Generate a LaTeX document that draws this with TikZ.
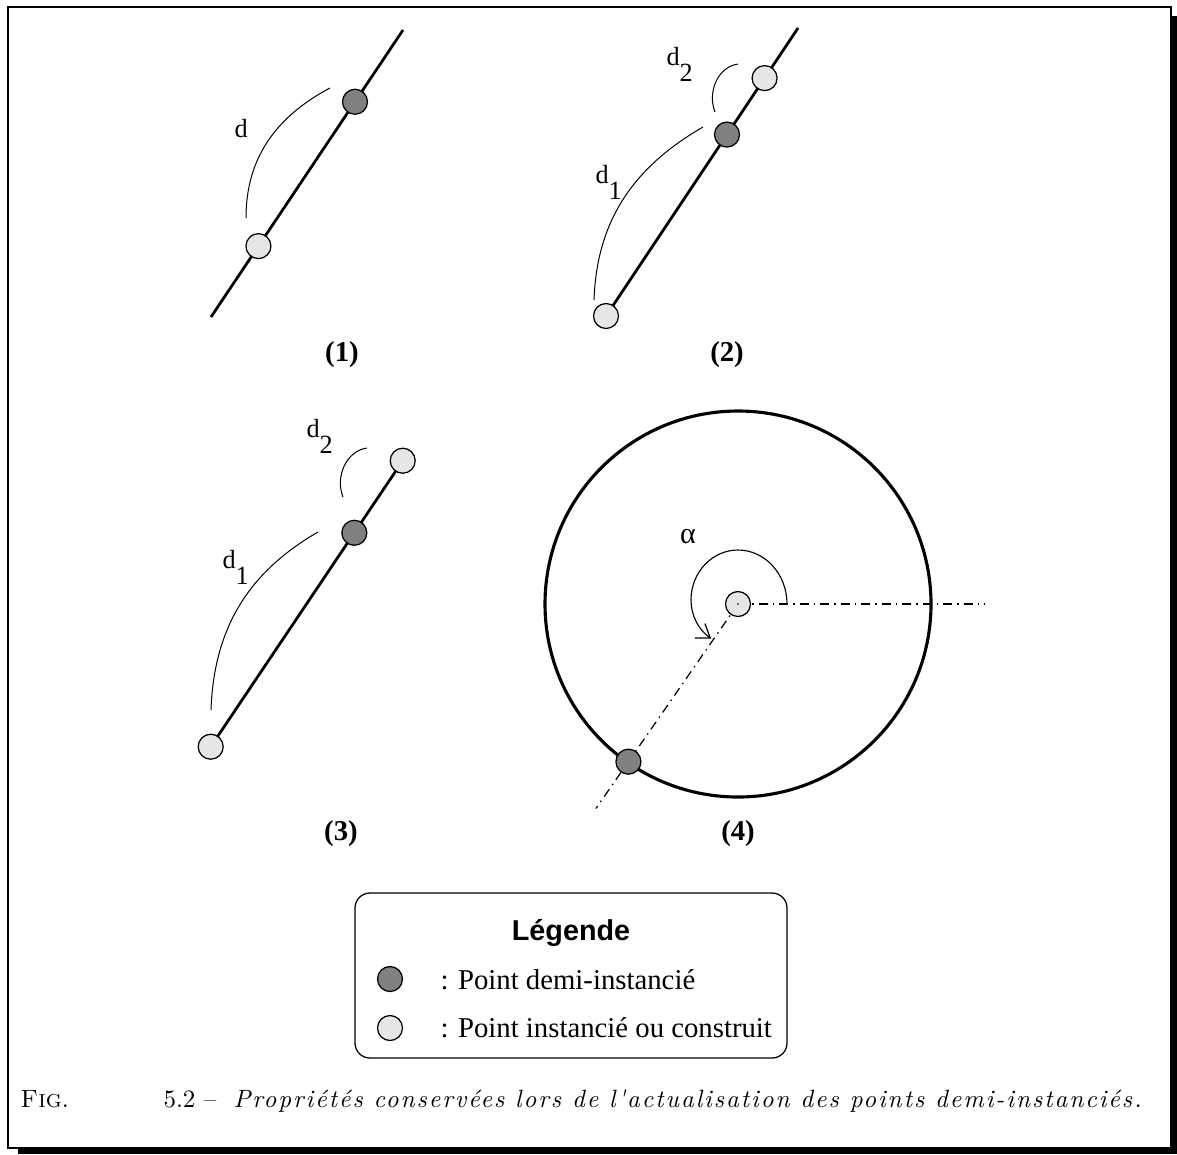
\documentclass[tikz,border=0pt]{standalone}
\usepackage{fontspec}
\newfontfamily\tms{Liberation Serif}
\newfontfamily\hlv{Liberation Sans}
\newfontfamily\capfont{Latin Modern Roman}[LetterSpace=7.9]
\usetikzlibrary{arrows.meta,calc}
\definecolor{dkgray}{RGB}{128,128,128}
\definecolor{ltgray}{RGB}{230,230,230}
\newcommand{\dsub}[1]{d\raisebox{-0.64em}{#1}}
\begin{document}
\begin{tikzpicture}[x=0.4pt,y=0.4pt,
  dkpt/.style={circle,draw,line width=0.5pt,fill=dkgray,minimum size=10pt,inner sep=0pt},
  ltpt/.style={circle,draw,line width=0.5pt,fill=ltgray,minimum size=10pt,inner sep=0pt},
  mainline/.style={line width=1.1pt},
  thinarc/.style={line width=0.4pt},
  dashdot/.style={line width=0.5pt,dash pattern=on 3.6pt off 2pt on 0.6pt off 2pt},
  lbl/.style={font=\tms\fontsize{10.5}{12}\selectfont,inner sep=0pt},
  num/.style={font=\tms\bfseries\fontsize{11.5}{13}\selectfont,inner sep=0pt},
  legtxt/.style={font=\tms\fontsize{11.5}{13}\selectfont,inner sep=0pt,anchor=base west}]
\useasboundingbox (0,0) rectangle (1177,-1154);
% frame and shadow
\fill (1171,-15.5) rectangle (1177,-1154);
\fill (18,-1148) rectangle (1177,-1154);
\draw[line width=0.8pt] (7.7,-6.7) rectangle (1171,-1148);

% ---- panel 1
\coordinate (a1) at (211,-317);
\coordinate (b1) at (403,-30);
\draw[mainline] (a1) -- (b1) node[ltpt,pos=0.247] (l1) {} node[dkpt,pos=0.75] (k1) {};
\coordinate (s1) at (246,-218);
\coordinate (e1) at (330,-88);
\draw[thinarc] (s1) to[out=90,in=208] (e1);
\node[lbl,anchor=base west] (t1) at (234,-137) {d};
\node[num] (n1) at (342,-355) {(1)};

% ---- panel 2
\coordinate (a2) at (606,-316);
\coordinate (b2) at (798,-28);
\draw[mainline] (a2) -- (b2) node[dkpt,pos=0.63] (k2) {} node[ltpt,pos=0.826] (l2b) {};
\node[ltpt] (l2a) at (a2) {};
\coordinate (s2) at (594,-300);
\coordinate (e2) at (703,-127);
\draw[thinarc] (s2) to[out=88,in=210] (e2);
\coordinate (s2b) at (715,-112);
\coordinate (e2b) at (738,-64);
\draw[thinarc] (s2b) to[out=112,in=188] (e2b);
\node[lbl,anchor=base west] (t2a) at (595,-183) {\dsub{1}};
\node[lbl,anchor=base west] (t2b) at (666,-65) {\dsub{2}};
\node[num] (n2) at (727,-355) {(2)};

% ---- panel 3
\coordinate (a3) at (210.7,-746.7);
\coordinate (b3) at (402.7,-460.7);
\draw[mainline] (a3) -- (b3) node[dkpt,pos=0.748] (k3) {};
\node[ltpt] (l3a) at (a3) {};
\node[ltpt] (l3b) at (b3) {};
\coordinate (s3) at (211,-710);
\coordinate (e3) at (318,-532);
\draw[thinarc] (s3) to[out=88,in=210] (e3);
\coordinate (s3b) at (343,-497);
\coordinate (e3b) at (367,-448);
\draw[thinarc] (s3b) to[out=112,in=188] (e3b);
\node[lbl,anchor=base west] (t3a) at (222,-568) {\dsub{1}};
\node[lbl,anchor=base west] (t3b) at (306,-437) {\dsub{2}};
\node[num] (n3) at (341,-834) {(3)};

% ---- panel 4
\coordinate (c4) at (738,-604);
\draw[line width=1.25pt] (c4) circle[radius=193];
\coordinate (r4) at (985,-604);
\coordinate (q4) at ($(c4)+(235.2:249)$);
\draw[dashdot] (c4) -- (r4);
\draw[dashdot] (c4) -- (q4);
\node[dkpt] (k4) at ($(c4)+(235.2:192)$) {};
\node[ltpt] (l4) at (c4) {};
\fill (c4) circle[radius=0.8];
\draw[thinarc,line width=0.45pt,-{Straight Barb[length=5pt,width=7pt,line width=0.5pt]}] (787,-604)
  arc[start angle=0,end angle=90,x radius=49,y radius=54]
  arc[start angle=90,end angle=180,x radius=47,y radius=50]
  arc[start angle=180,end angle=235,radius=47];
\node[font=\tms\fontsize{12}{13}\selectfont,inner sep=0pt] (al) at (688,-537) {α};
\node[num] (n4) at (738,-834) {(4)};

% ---- legend
\draw[line width=0.5pt,rounded corners=6pt] (355,-893) rectangle (787,-1058);
\node[font=\hlv\bfseries\fontsize{11.5}{13}\selectfont,inner sep=0pt,anchor=base] (lg) at (571,-940) {Légende};
\node[dkpt] (ld) at (390,-979) {};
\node[ltpt] (ll) at (390,-1028) {};
\node[legtxt] (ltd) at (440,-989) {: Point demi-instancié};
\node[legtxt] (ltl) at (440,-1037) {: Point instancié ou construit};

% ---- caption
\node[inner sep=0pt,anchor=base west,font=\fontsize{10}{12}\selectfont] (cf) at (20,-1107) {\textsc{Fig}.};
\node[inner sep=0pt,anchor=base west,font=\fontsize{10}{12}\selectfont] (cn) at (163,-1107) {5.2 --};
\node[inner sep=0pt,anchor=base west,font=\capfont\itshape\fontsize{10}{12}\selectfont] (ct) at (233,-1107) {Propriétés conservées lors de l'actualisation des points demi-instanciés.};
\end{tikzpicture}
\end{document}
